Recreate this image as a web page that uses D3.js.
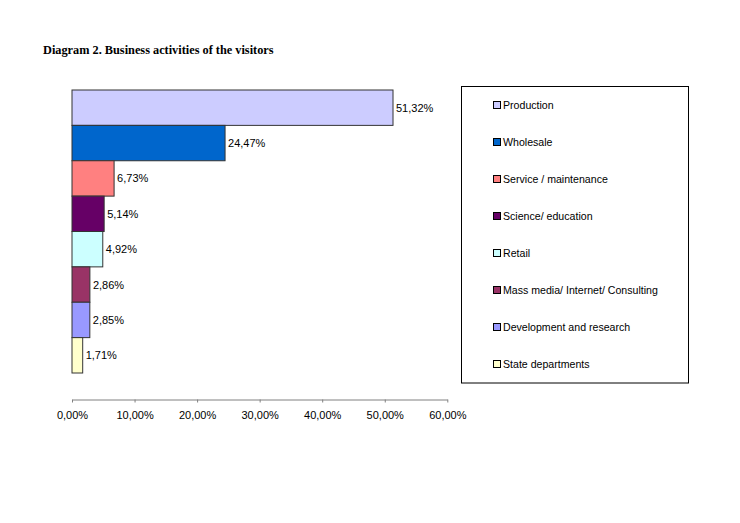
<!DOCTYPE html>
<html><head><meta charset="utf-8">
<script src="https://cdn.jsdelivr.net/npm/d3@7"></script>
<style>body{margin:0;background:#fff}</style>
</head><body>
<script>
const categories = ["Production","Wholesale","Service / maintenance","Science/ education","Retail","Mass media/ Internet/ Consulting","Development and research","State departments"];
const values = [51.32,24.47,6.73,5.14,4.92,2.86,2.85,1.71];
const colors = ["#CCCCFF","#0066CC","#FF8080","#660066","#CCFFFF","#993366","#9999FF","#FFFFCC"];
const ticks = [0,10,20,30,40,50,60];

const W=740,H=523;
const svg=d3.select("body").append("svg").attr("width",W).attr("height",H);
const fmt = v => d3.format(".2f")(v).replace(".",",")+"%";

svg.append("text").attr("x",43).attr("y",54).attr("font-family","Liberation Serif, Times New Roman, serif")
  .attr("font-weight","bold").attr("font-size",12.3).attr("fill","#000")
  .text("Diagram 2. Business activities of the visitors");

const x=d3.scaleLinear().domain([0,60]).range([72,447.3]);
const y=d3.scaleBand().domain(categories).range([90,373]).padding(0);

svg.selectAll("rect.bar").data(categories).enter().append("rect").attr("class","bar")
  .attr("x",x(0)).attr("y",d=>y(d)).attr("width",(d,i)=>x(values[i])-x(0)).attr("height",y.bandwidth())
  .attr("fill",(d,i)=>colors[i]).attr("stroke","#333").attr("stroke-width",1);

svg.selectAll("text.val").data(categories).enter().append("text").attr("class","val")
  .attr("x",(d,i)=>x(values[i])+3).attr("y",d=>y(d)+y.bandwidth()/2+4)
  .attr("font-family","Liberation Sans, Arial, sans-serif").attr("font-size",11).attr("fill","#000")
  .text((d,i)=>fmt(values[i]));

const ax=svg.append("g").attr("transform","translate(0,399.5)")
  .call(d3.axisBottom(x).tickValues(ticks).tickSize(3).tickSizeOuter(0).tickPadding(9).tickFormat(v=>fmt(v)));
ax.select(".domain").attr("stroke","#808080");
ax.selectAll(".tick line").attr("stroke","#808080");
ax.selectAll("text").attr("font-family","Liberation Sans, Arial, sans-serif").attr("font-size",11).attr("fill","#000");

// legend
svg.append("rect").attr("x",461.5).attr("y",86.5).attr("width",227).attr("height",296.5)
  .attr("fill","#fff").attr("stroke","#000").attr("stroke-width",1);
const lg=svg.selectAll("g.lg").data(categories).enter().append("g").attr("class","lg")
  .attr("transform",(d,i)=>`translate(493.5,${105+i*37})`);
lg.append("rect").attr("x",0).attr("y",-3.5).attr("width",7).attr("height",7)
  .attr("fill",(d,i)=>colors[i]).attr("stroke","#000").attr("stroke-width",1);
lg.append("text").attr("x",9.5).attr("y",4).attr("font-family","Liberation Sans, Arial, sans-serif")
  .attr("font-size",10.6).attr("fill","#000").text(d=>d);
</script>
</body></html>
